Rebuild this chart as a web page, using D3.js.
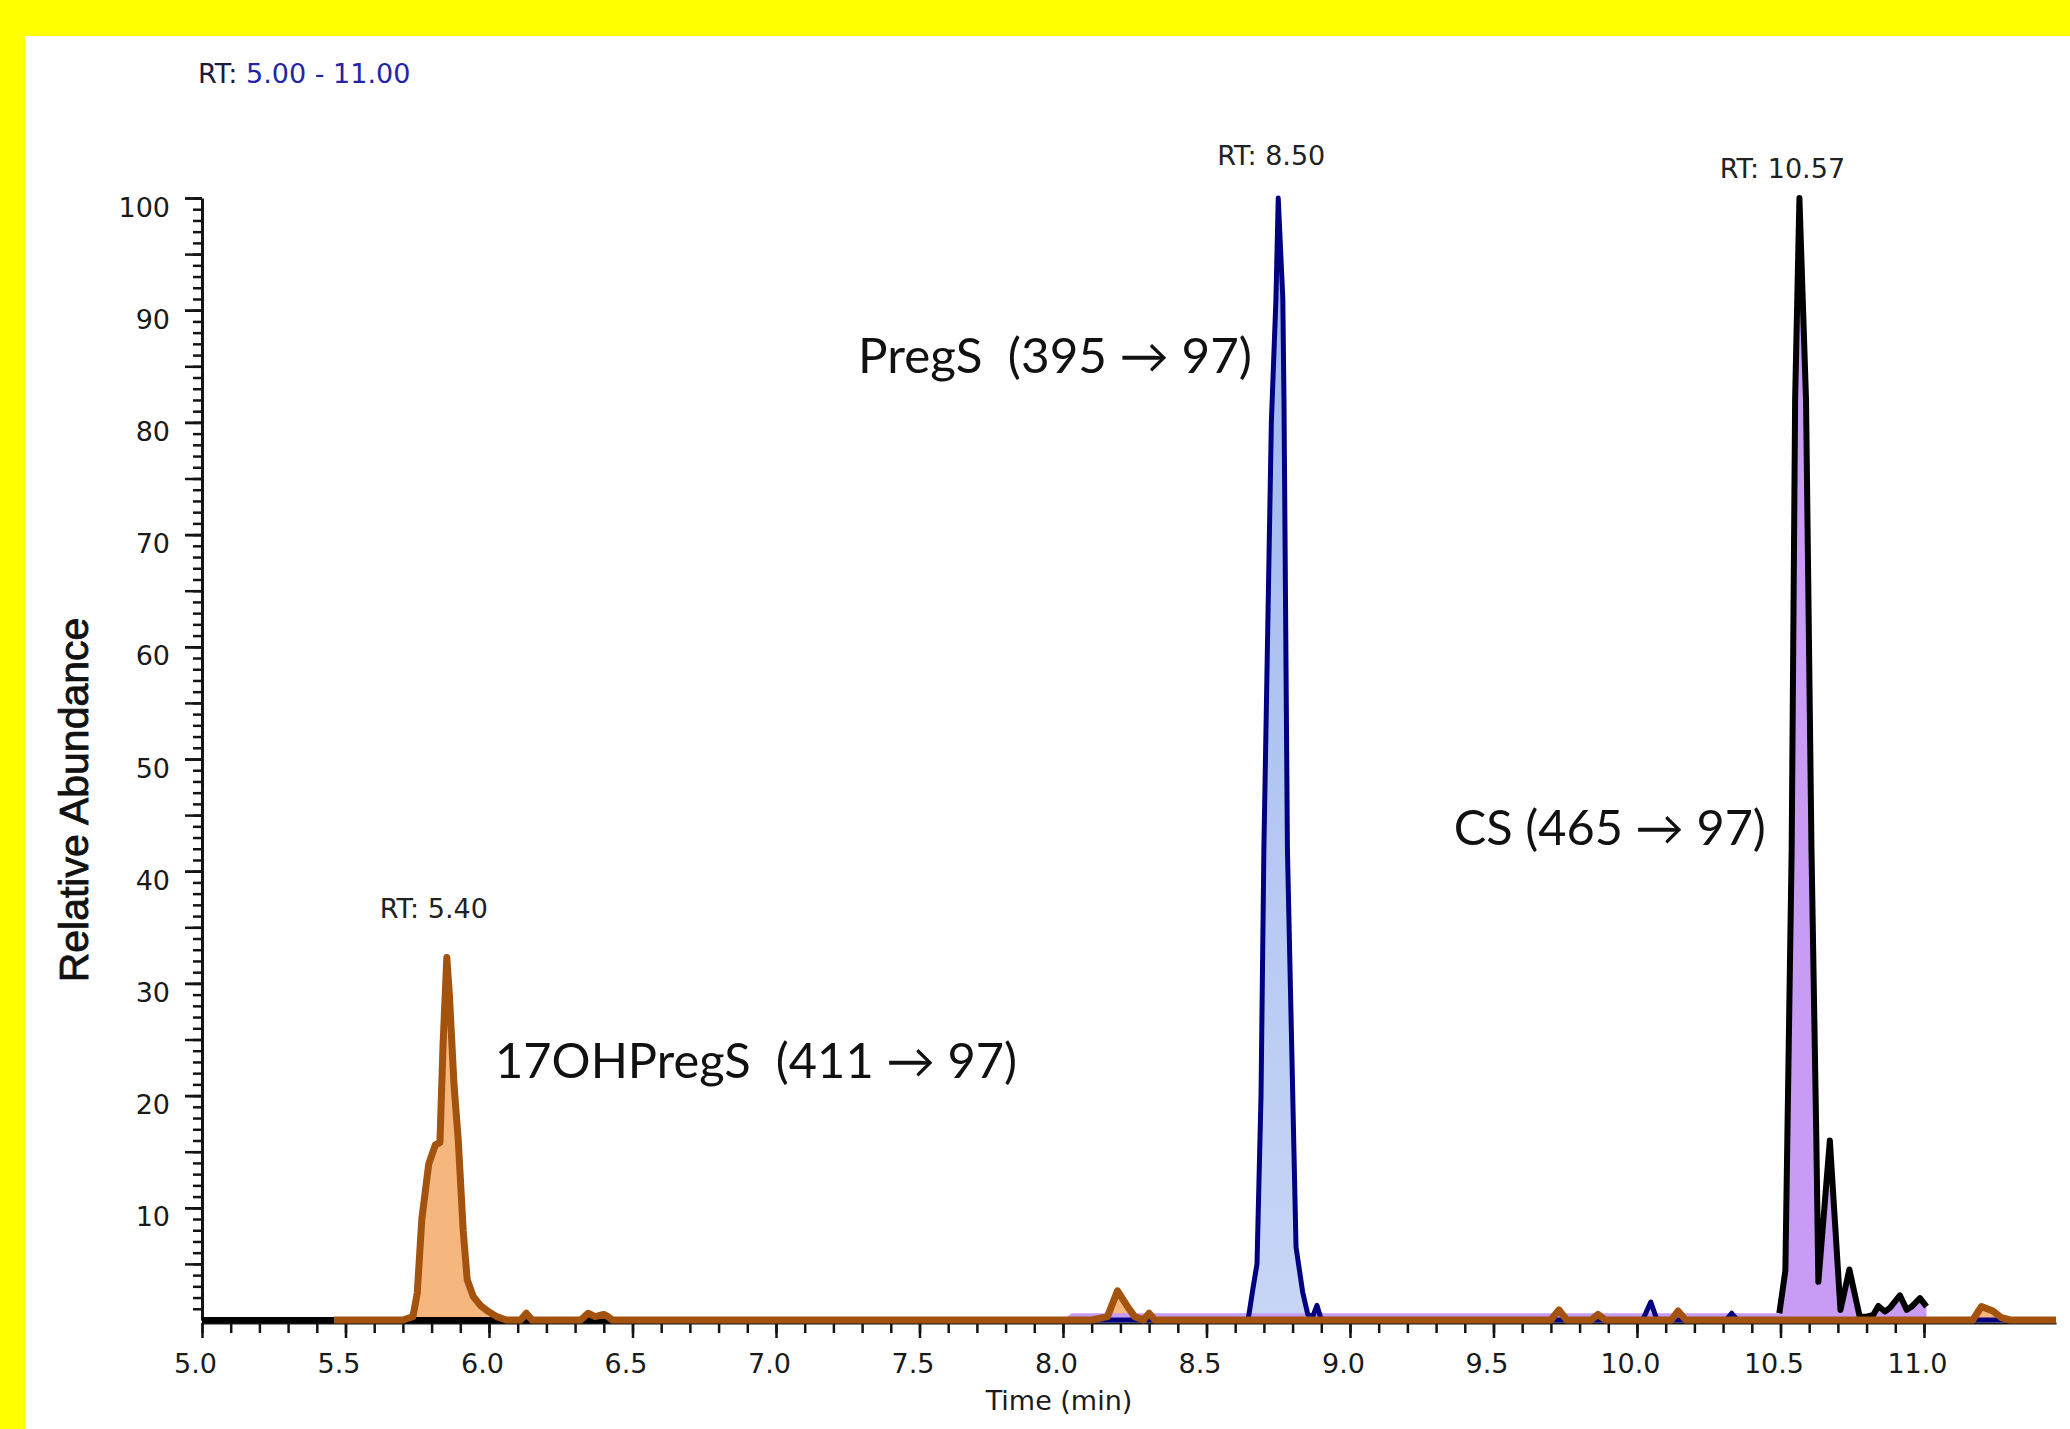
<!DOCTYPE html>
<html>
<head>
<meta charset="utf-8">
<script src="https://cdn.jsdelivr.net/npm/d3@7"></script>
<style>
  html, body { margin: 0; padding: 0; background: #ffff00; }
  svg { display: block; }
</style>
</head>
<body>
<svg id="chart" width="2070" height="1429"></svg>
<script>
// ---------------- DATA ----------------
const xMajorTicks = [5.0, 5.5, 6.0, 6.5, 7.0, 7.5, 8.0, 8.5, 9.0, 9.5, 10.0, 10.5, 11.0];
const xTickLabels = ["5.0", "5.5", "6.0", "6.5", "7.0", "7.5", "8.0", "8.5", "9.0", "9.5", "10.0", "10.5", "11.0"];
const yMajorTicks = [10, 20, 30, 40, 50, 60, 70, 80, 90, 100];
const yTickLabels = ["10", "20", "30", "40", "50", "60", "70", "80", "90", "100"];

// 17OHPregS (411 -> 97), brown trace
const ohPregTime = [5.46, 5.70, 5.735, 5.75, 5.766, 5.79, 5.813, 5.829, 5.84, 5.853, 5.862, 5.878, 5.893, 5.91, 5.924,
  5.945, 5.97, 5.995, 6.027, 6.06, 6.11, 6.13, 6.15, 6.32, 6.345, 6.37, 6.40, 6.415, 6.43,
  8.10, 8.155, 8.19, 8.23, 8.25, 8.28, 8.30, 8.32, 9.70, 9.728, 9.755, 9.84, 9.864, 9.89,
  10.12, 10.143, 10.17, 11.17, 11.20, 11.24, 11.27, 11.30, 11.46];
const ohPregAbund = [0, 0, 0.3, 2.4, 9.0, 13.9, 15.6, 15.8, 24.6, 32.3, 29, 21, 16, 8, 3.6,
  2.1, 1.3, 0.8, 0.3, 0, 0, 0.6, 0, 0, 0.6, 0.3, 0.5, 0.3, 0,
  0, 0.3, 2.6, 1.0, 0.3, 0, 0.6, 0, 0, 0.9, 0, 0, 0.5, 0,
  0, 0.8, 0, 0, 1.2, 0.8, 0.2, 0, 0];

// PregS (395 -> 97), navy trace
const pregTime = [5.0, 8.645, 8.66, 8.676, 8.69, 8.70, 8.726, 8.742, 8.75, 8.766, 8.77, 8.782, 8.812, 8.835, 8.853,
  8.87, 8.885, 8.90, 10.02, 10.048, 10.07, 10.31, 10.33, 10.35, 11.46];
const pregAbund = [0, 0, 2.5, 5, 20, 42, 80, 91, 100, 91, 82, 42, 6.5, 2.5, 0.5,
  0.3, 1.3, 0, 0, 1.6, 0, 0, 0.6, 0, 0];

// CS (465 -> 97), black trace
const csTime = [5.0, 8.0, 8.03, 10.47, 10.496, 10.517, 10.539, 10.551, 10.566, 10.589, 10.608, 10.625, 10.632,
  10.672, 10.709, 10.74, 10.776, 10.80, 10.823, 10.841, 10.864, 10.882, 10.916, 10.94, 10.957, 10.986, 11.009];
const csAbund = [0, 0, 0.6, 0.6, 0.6, 4.4, 42, 82, 100, 82, 42, 16, 3.4,
  16, 0.9, 4.5, 0.3, 0.3, 0.45, 1.25, 0.75, 1.1, 2.2, 0.9, 1.2, 1.95, 1.2];

const compoundLabels = ["17OHPregS  (411 \u2192 97)", "PregS  (395 \u2192 97)", "CS (465 \u2192 97)"];
const rtLabels = ["RT: 5.40", "RT: 8.50", "RT: 10.57"];
const rangeLabelParts = ["RT:", " 5.00 - 11.00"];
const xAxisTitle = "Time (min)";
const yAxisTitle = "Relative Abundance";

// ---------------- DRAWING ----------------
const svg = d3.select("#chart");

svg.append("rect").attr("x", 25).attr("y", 36).attr("width", 2045).attr("height", 1393).attr("fill", "#ffffff");

const x = d3.scaleLinear().domain([5, 11.46]).range([202, 2056]);
const y = d3.scaleLinear().domain([0, 100]).range([1320, 198]);

const defs = svg.append("defs");
const grad = defs.append("linearGradient").attr("id", "blueFill")
  .attr("gradientUnits", "userSpaceOnUse")
  .attr("x1", 0).attr("x2", 0).attr("y1", y(100)).attr("y2", y(0));
grad.append("stop").attr("offset", "0%").attr("stop-color", "#9cb5ee");
grad.append("stop").attr("offset", "100%").attr("stop-color", "#c7d6f6");

const toPts = (ts, vs) => ts.map((t, i) => ({ t: t, v: vs[i] }));
const ohPts = toPts(ohPregTime, ohPregAbund);
const pregPts = toPts(pregTime, pregAbund);
const csPts = toPts(csTime, csAbund);

const area = d3.area().x(d => x(d.t)).y0(y(0)).y1(d => y(d.v));
const line = d3.line().x(d => x(d.t)).y(d => y(d.v));

// axes
const axisColor = "#141414";
const tickFont = "DejaVu Sans, Verdana, sans-serif";

// y minor ticks (every 1)
const gyMinor = svg.append("g").attr("transform", `translate(${x(5)},0)`)
  .call(d3.axisLeft(y).tickValues(d3.range(1, 101)).tickSize(9).tickFormat(""));
gyMinor.select(".domain").remove();
// y medium ticks (every 5)
const gyMid = svg.append("g").attr("transform", `translate(${x(5)},0)`)
  .call(d3.axisLeft(y).tickValues(d3.range(5, 101, 5)).tickSize(17).tickFormat(""));
gyMid.select(".domain").remove();
// y major ticks with labels
const gy = svg.append("g").attr("transform", `translate(${x(5)},0)`)
  .call(d3.axisLeft(y).tickValues(yMajorTicks).tickSize(17).tickSizeOuter(0).tickPadding(15)
    .tickFormat((d, i) => yTickLabels[i]));
[gyMinor, gyMid, gy].forEach(g => {
  g.selectAll("line").attr("stroke", axisColor).attr("stroke-width", 2.5);
});
gy.select(".domain").attr("stroke", axisColor).attr("stroke-width", 3);
gy.selectAll("text").attr("dy", 18).attr("font-family", tickFont).attr("font-size", 27).attr("fill", "#1a1a1a");

// x minor ticks (every 0.1)
const gxMinor = svg.append("g").attr("transform", `translate(0,${y(0) + 3})`)
  .call(d3.axisBottom(x).tickValues(d3.range(50, 111).map(i => i / 10)).tickSize(10).tickFormat(""));
gxMinor.select(".domain").remove();
const gx = svg.append("g").attr("transform", `translate(0,${y(0) + 3})`)
  .call(d3.axisBottom(x).tickValues(xMajorTicks).tickSize(15).tickSizeOuter(0)
    .tickFormat((d, i) => xTickLabels[i]));
[gxMinor, gx].forEach(g => g.selectAll("line").attr("stroke", axisColor).attr("stroke-width", 2.5));
gx.select(".domain").attr("stroke", axisColor).attr("stroke-width", 2);
gx.selectAll("text").attr("y", 50).attr("dy", 0).attr("dx", -7)
  .attr("font-family", tickFont).attr("font-size", 27).attr("fill", "#1a1a1a");

// fills
svg.append("path").datum(ohPts).attr("d", area).attr("fill", "#f5b77e");
svg.append("path").datum(pregPts).attr("d", area).attr("fill", "url(#blueFill)");
svg.append("path").datum(csPts).attr("d", area).attr("fill", "#c89bf4");

// lines
svg.append("path").datum(pregPts).attr("d", line)
  .attr("fill", "none").attr("stroke", "#000080").attr("stroke-width", 5).attr("stroke-linejoin", "round");
svg.append("path").datum(csPts)
  .attr("d", d3.line().defined(d => d.t <= 8.0 || d.t >= 10.49).x(d => x(d.t)).y(d => y(d.v)))
  .attr("fill", "none").attr("stroke", "#000000").attr("stroke-width", 6).attr("stroke-linejoin", "round");
svg.append("path").datum(ohPts).attr("d", line)
  .attr("fill", "none").attr("stroke", "#a4530e").attr("stroke-width", 7).attr("stroke-linejoin", "round");

// RT range label (top left)
const rl = svg.append("text").attr("x", x(5) - 4).attr("y", 83)
  .attr("font-family", tickFont).attr("font-size", 27).style("white-space", "pre");
rl.append("tspan").attr("fill", "#1b1b3c").text(rangeLabelParts[0]);
rl.append("tspan").attr("fill", "#2424a6").text(rangeLabelParts[1]);

// RT peak labels
const rtPos = [
  { x: x(5.853) - 13, y: y(32.3) - 40 },
  { x: x(8.75) - 7, y: y(100) - 33 },
  { x: x(10.566) - 17, y: y(100) - 20 }
];
rtLabels.forEach((s, i) => {
  svg.append("text").attr("x", rtPos[i].x).attr("y", rtPos[i].y)
    .attr("text-anchor", "middle").attr("font-family", tickFont).attr("font-size", 27)
    .attr("fill", "#222222").text(s);
});

// compound annotations
const annFont = "Lato, 'Open Sans', sans-serif";
const annPos = [
  { t: 6.021, v: 21.57, w: 522 },
  { t: 7.286, v: 84.4, w: 394 },
  { t: 9.362, v: 42.3, w: 312 }
];
compoundLabels.forEach((s, i) => {
  svg.append("text").attr("x", x(annPos[i].t)).attr("y", y(annPos[i].v))
    .attr("font-family", annFont).attr("font-size", 48).attr("fill", "#111111")
    .style("white-space", "pre")
    .attr("textLength", annPos[i].w).attr("lengthAdjust", "spacingAndGlyphs")
    .text(s);
});

// axis titles
svg.append("text").attr("x", 1059).attr("y", 1410).attr("text-anchor", "middle")
  .attr("font-family", tickFont).attr("font-size", 27).attr("fill", "#1a1a1a").text(xAxisTitle);
svg.append("text").attr("transform", "translate(88,800) rotate(-90)").attr("text-anchor", "middle")
  .attr("font-family", "'Liberation Sans', Arial, sans-serif").attr("font-size", 41)
  .attr("fill", "#111111").attr("stroke", "#111111").attr("stroke-width", 0.8).text(yAxisTitle);
</script>
</body>
</html>
